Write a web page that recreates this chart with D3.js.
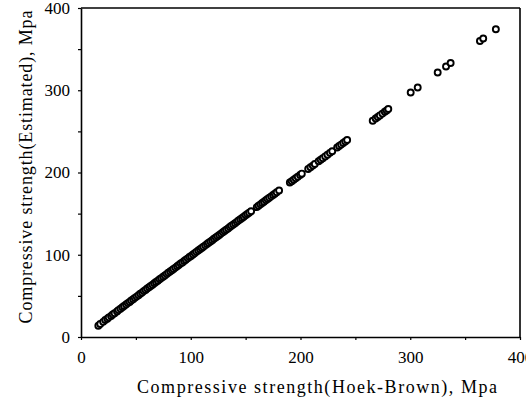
<!DOCTYPE html>
<html>
<head>
<meta charset="utf-8">
<script src="https://cdn.jsdelivr.net/npm/d3@7"></script>
<style>
  body { margin: 0; background: #fff; }
  svg { display: block; }
  text { font-family: "Liberation Serif", "DejaVu Serif", serif; fill: #000; }
</style>
</head>
<body>
<div id="chart"></div>
<script>
var width = 526, height = 401;
var mLeft = 81, mRight = 520, mTop = 8, mBottom = 337;

// Hoek-Brown compressive strength (x), MPa
var hoek = [15.8, 17.5, 20.2, 22.1, 24.0, 25.3, 27.4, 28.9, 30.6, 32.8, 34.1, 36.0, 37.7, 39.2, 41.0,
    42.6, 44.3, 45.8, 47.5, 49.0, 50.7, 52.4, 54.0, 55.6, 57.1, 58.8, 60.3, 62.0, 63.5, 65.2, 66.8,
    68.3, 70.0, 71.6, 73.1, 74.8, 76.4, 78.0, 79.5, 81.2, 82.8, 84.3, 86.0, 87.6, 89.1, 90.8, 92.4,
    94.0, 95.5, 97.2, 98.8, 100.3, 102.0, 103.6, 105.1, 106.8, 108.4, 110.0, 111.5, 113.2, 114.8,
    116.3, 118.0, 119.6, 121.1, 122.8, 124.4, 126.0, 127.5, 129.2, 130.8, 132.3, 134.0, 135.6,
    137.1, 138.8, 140.4, 142.0, 143.5, 145.2, 146.8, 148.3, 150.0, 151.6, 153.2, 155.0,
    160.2, 161.8, 163.5, 165.1, 166.7, 168.4, 170.0, 171.6, 173.3, 175.0, 176.6, 178.3, 180.5,
    190.3, 192.0, 193.8, 195.6, 197.5, 199.6, 201.2,
    207.0, 209.1, 211.2, 213.0,
    216.5, 218.4, 220.3, 222.5, 224.6, 226.8, 228.9,
    233.4, 235.2, 237.0, 238.9, 240.8, 242.5,
    265.8, 268.5, 270.4, 272.3, 274.6, 276.8, 278.5, 280.0,
    300.4, 306.8, 325.0, 332.6, 336.8, 363.5, 366.5, 378.0];

// estimated compressive strength (y), MPa
var estimated = [13.6, 15.8, 18.4, 20.6, 22.3, 23.9, 25.6, 27.5, 29.0, 31.1, 32.7, 34.4, 36.2, 37.6, 39.5,
    41.2, 42.6, 44.4, 46.0, 47.6, 49.1, 50.9, 52.6, 54.0, 55.8, 57.2, 58.9, 60.4, 62.1, 63.6, 65.3,
    66.9, 68.4, 70.2, 71.6, 73.3, 74.8, 76.5, 78.1, 79.6, 81.3, 82.8, 84.4, 86.1, 87.5, 89.3, 90.7,
    92.5, 93.9, 95.6, 97.2, 98.6, 100.4, 101.9, 103.5, 105.1, 106.6, 108.3, 109.8, 111.4, 113.0,
    114.5, 116.2, 117.7, 119.4, 120.9, 122.6, 124.1, 125.7, 127.3, 128.8, 130.5, 132.0, 133.7,
    135.2, 136.8, 138.4, 140.0, 141.6, 143.1, 144.8, 146.3, 148.0, 149.5, 151.2, 152.8,
    158.0, 159.6, 161.3, 162.9, 164.4, 166.2, 167.7, 169.4, 171.0, 172.6, 174.3, 175.9, 178.1,
    187.8, 189.5, 191.3, 193.0, 194.9, 196.9, 198.6,
    204.3, 206.3, 208.4, 210.3,
    213.7, 215.6, 217.4, 219.6, 221.7, 223.9, 225.9,
    230.4, 232.2, 233.9, 235.8, 237.7, 239.6,
    263.0, 265.6, 267.5, 269.4, 271.6, 273.9, 275.5, 277.2,
    297.2, 303.4, 321.6, 328.9, 333.2, 359.8, 362.9, 374.2];

var ticks = [0, 50, 100, 150, 200, 250, 300, 350, 400];
var labelTicks = [0, 100, 200, 300, 400];

var svg = d3.select("#chart").append("svg")
    .attr("width", width)
    .attr("height", height);

var x = d3.scaleLinear().domain([0, 400]).range([mLeft, mRight]);
var y = d3.scaleLinear().domain([0, 400]).range([mBottom, mTop]);

function fmt(d) { return labelTicks.indexOf(d) >= 0 ? d : ""; }

var gx = svg.append("g")
    .attr("transform", "translate(0," + mBottom + ")")
    .call(d3.axisBottom(x).tickValues(ticks).tickFormat(fmt).tickSize(3).tickSizeOuter(0));
gx.selectAll("text").attr("y", 14).style("font-size", "17px");

var gy = svg.append("g")
    .attr("transform", "translate(" + mLeft + ",0)")
    .call(d3.axisLeft(y).tickValues(ticks).tickFormat(fmt).tickSize(3).tickSizeOuter(0));
gy.selectAll("text").attr("x", -11).style("font-size", "17px");

svg.selectAll(".domain").attr("stroke-width", 1.6);
svg.selectAll(".tick line").attr("stroke-width", 1.2);

// frame on top and right
svg.append("line").attr("x1", mLeft).attr("x2", mRight).attr("y1", mTop).attr("y2", mTop)
    .attr("stroke", "#000").attr("stroke-width", 1.6);
svg.append("line").attr("x1", mRight).attr("x2", mRight).attr("y1", mTop).attr("y2", mBottom)
    .attr("stroke", "#000").attr("stroke-width", 1.6);

var pts = hoek.map(function (d, i) { return { h: d, e: estimated[i] }; });

svg.append("g").selectAll("circle")
    .data(pts)
    .enter().append("circle")
    .attr("cx", function (d) { return x(d.h); })
    .attr("cy", function (d) { return y(d.e); })
    .attr("r", 3)
    .attr("fill", "#fff")
    .attr("stroke", "#000")
    .attr("stroke-width", 1.9);

svg.append("text")
    .attr("x", 317).attr("y", 393)
    .attr("text-anchor", "middle")
    .attr("textLength", 360).attr("lengthAdjust", "spacing")
    .style("font-size", "18px")
    .text("Compressive strength(Hoek-Brown), Mpa");

svg.append("text")
    .attr("transform", "translate(32,167) rotate(-90)")
    .attr("text-anchor", "middle")
    .attr("textLength", 313).attr("lengthAdjust", "spacing")
    .style("font-size", "18px")
    .text("Compressive strength(Estimated), Mpa");
</script>
</body>
</html>
